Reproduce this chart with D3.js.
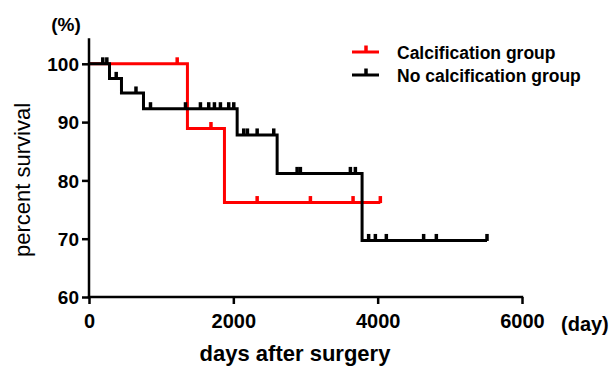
<!DOCTYPE html>
<html>
<head>
<meta charset="utf-8">
<script src="https://cdn.jsdelivr.net/npm/d3@7/dist/d3.min.js"></script>
<style>
  html, body { margin: 0; padding: 0; background: #fff; }
  svg { display: block; }
  text { font-family: "Liberation Sans", Arial, sans-serif; }
</style>
</head>
<body>
<svg id="chart" width="614" height="367"></svg>
<script>
// ---- data ----
const xTickValues = [0, 2000, 4000, 6000];
const yTickValues = [60, 70, 80, 90, 100];
const seriesNames = ["Calcification group", "No calcification group"];
const seriesColors = ["#ff0000", "#000000"];

// Calcification group (Kaplan-Meier steps)
const calcStepDays = [0, 1364, 1877];
const calcStepSurv = [100, 88.9, 76.2];
const calcEndDay = 4037;
const calcCensorDays = [1222, 1690, 2330, 3068, 3659, 4037];

// No calcification group
const noCalcStepDays = [0, 284, 450, 755, 2053, 2607, 3784];
const noCalcStepSurv = [100, 97.5, 95.0, 92.3, 87.8, 81.2, 69.7];
const noCalcEndDay = 5515;
const noCalcCensorDays = [191, 247, 377, 651, 852, 1337, 1544, 1659, 1738, 1821, 1936, 2006,
  2144, 2195, 2330, 2560, 2884, 2929, 3622, 3691, 3875, 3968, 4120, 4637, 4813, 5515];

// ---- layout ----
const svg = d3.select("#chart");
const x = d3.scaleLinear().domain([0, 6000]).range([89, 522]);
const y = d3.scaleLinear().domain([60, 100]).range([297, 63.8]);
const axisTop = y(104.4);

function buildSeries(days, surv, endDay) {
  const pts = days.map((d, i) => [d, surv[i]]);
  pts.push([endDay, surv[surv.length - 1]]);
  return pts;
}
function survAt(days, surv, t) {
  let v = surv[0];
  for (let i = 0; i < days.length; i++) if (days[i] <= t) v = surv[i];
  return v;
}

const groups = [
  { name: seriesNames[0], color: seriesColors[0], pts: buildSeries(calcStepDays, calcStepSurv, calcEndDay),
    censor: calcCensorDays.map(d => [d, survAt(calcStepDays, calcStepSurv, d)]) },
  { name: seriesNames[1], color: seriesColors[1], pts: buildSeries(noCalcStepDays, noCalcStepSurv, noCalcEndDay),
    censor: noCalcCensorDays.map(d => [d, survAt(noCalcStepDays, noCalcStepSurv, d)]) }
];

const line = d3.line().x(d => x(d[0])).y(d => y(d[1])).curve(d3.curveStepAfter);

groups.forEach(g => {
  svg.append("path").attr("d", line(g.pts)).attr("fill", "none")
    .attr("stroke", g.color).attr("stroke-width", 3).attr("stroke-linejoin", "miter");
  svg.append("g").selectAll("rect").data(g.censor).join("rect")
    .attr("x", d => x(d[0]) - 1.75).attr("y", d => y(d[1]) - 6.5)
    .attr("width", 3.5).attr("height", 7).attr("fill", g.color);
});

// ---- axes ----
const fmt = d3.format("d");
const yAxis = d3.axisLeft(y).tickValues(yTickValues).tickFormat(fmt).tickSize(7).tickPadding(3);
const gy = svg.append("g").attr("transform", `translate(${x(0)},0)`).call(yAxis);
gy.select(".domain").remove();
gy.append("line").attr("x1", 0).attr("x2", 0).attr("y1", axisTop).attr("y2", y(60) + 1.2)
  .attr("stroke", "#000").attr("stroke-width", 2.5);
gy.selectAll(".tick line").attr("stroke", "#000").attr("stroke-width", 2.5);
gy.selectAll(".tick text").attr("font-size", 19).attr("font-weight", "bold")
  .attr("fill", "#000").attr("dy", "0.35em").attr("font-family", "Liberation Sans, Arial, sans-serif");

const xAxis = d3.axisBottom(x).tickValues(xTickValues).tickFormat(fmt).tickSize(7).tickPadding(10);
const gx = svg.append("g").attr("transform", `translate(0,${y(60)})`).call(xAxis);
gx.select(".domain").remove();
gx.append("line").attr("x1", x(0) - 1.2).attr("x2", x(6000) + 1.2).attr("y1", 0).attr("y2", 0)
  .attr("stroke", "#000").attr("stroke-width", 2.5);
gx.selectAll(".tick line").attr("stroke", "#000").attr("stroke-width", 2.5);
gx.selectAll(".tick text").attr("font-size", 20).attr("font-weight", "bold")
  .attr("fill", "#000").attr("font-family", "Liberation Sans, Arial, sans-serif");

// ---- labels ----
svg.append("text").attr("x", 66).attr("y", 31).attr("text-anchor", "middle")
  .attr("font-size", 19).attr("font-weight", "bold").text("(%)");
svg.append("text").attr("x", 561).attr("y", 331).attr("text-anchor", "start")
  .attr("font-size", 20).attr("font-weight", "bold").text("(day)");
svg.append("text").attr("transform", "translate(30,180) rotate(-90)").attr("text-anchor", "middle")
  .attr("font-size", 22).text("percent survival");
svg.append("text").attr("x", 295).attr("y", 361).attr("text-anchor", "middle")
  .attr("font-size", 22).attr("font-weight", "bold").text("days after surgery");

// ---- legend ----
const legend = svg.append("g");
groups.forEach((g, i) => {
  const ly = 52 + i * 23;
  legend.append("line").attr("x1", 352).attr("x2", 379).attr("y1", ly).attr("y2", ly)
    .attr("stroke", g.color).attr("stroke-width", 3);
  legend.append("rect").attr("x", 364.25).attr("y", ly - 6.5).attr("width", 3.5).attr("height", 7)
    .attr("fill", g.color);
  legend.append("text").attr("x", 397).attr("y", ly + 6.5).attr("font-size", 17.5)
    .attr("font-weight", "bold").text(g.name);
});
</script>
</body>
</html>
